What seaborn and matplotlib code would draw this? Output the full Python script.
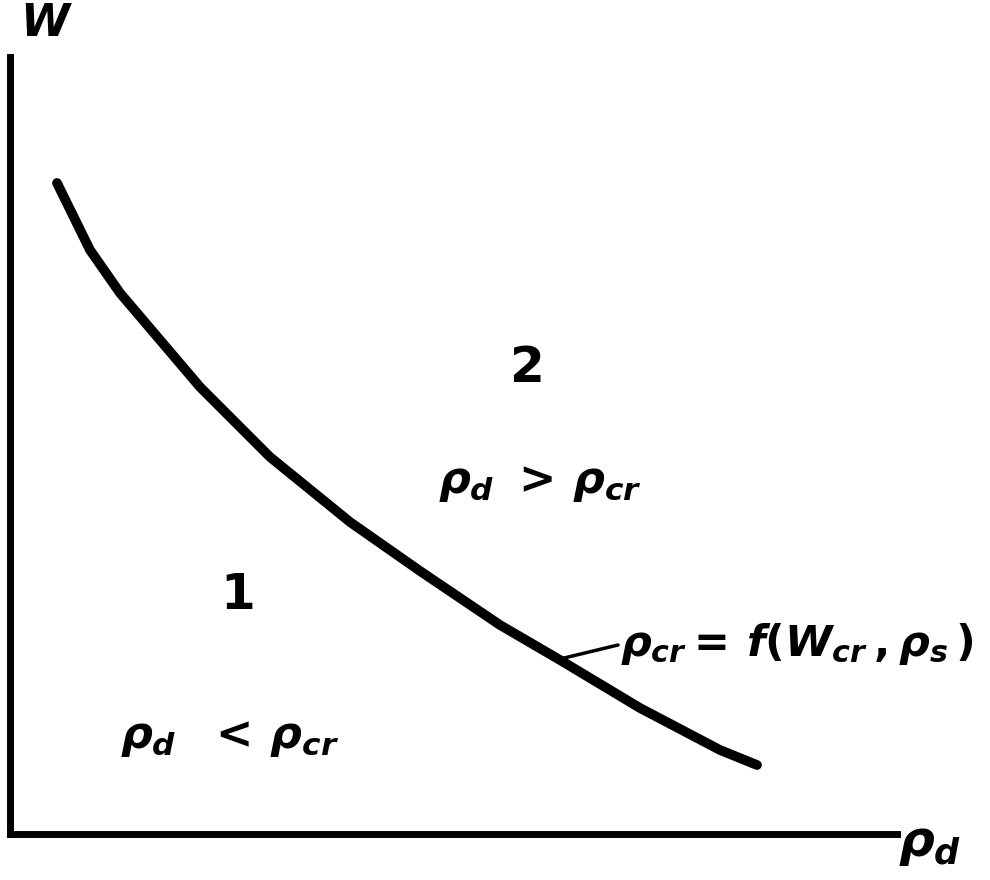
import numpy as np
import pandas as pd
import seaborn as sns
import matplotlib
matplotlib.use("Agg")
import matplotlib.pyplot as plt

# =========================
# DATA
# =========================
rho_d = [47, 80, 110, 190, 260, 340, 410, 490, 550, 630, 710, 747]
w_val = [651, 584, 541, 447, 377, 312, 263, 209, 174, 126, 84, 69]

region_labels = ["2", "1"]
region_pos = [(515, 466), (227, 239)]
cond_labels = [r"$\rho_d\ {>}\,\rho_{cr}$", r"$\rho_d\ \ {<}\,\rho_{cr}$"]
cond_pos = [(530, 352), (220, 97)]

curve_label = r"$\rho_{cr}{=}\,f(W_{cr}\,,\rho_s\,)$"
leader_x = [550, 608]
leader_y = [175, 189]

# =========================
# STYLE
# =========================
sns.set_style("white")
plt.rcParams["mathtext.fontset"] = "custom"
plt.rcParams["mathtext.it"] = "DejaVu Sans:italic:bold"
plt.rcParams["mathtext.rm"] = "DejaVu Sans:bold"
plt.rcParams["font.family"] = ["DejaVu Sans"]
plt.rcParams["text.color"] = "black"

fig = plt.figure(figsize=(9.9, 8.8), dpi=100)
ax = fig.add_axes([10 / 990, 46 / 880, 887 / 990, 777 / 880])

df = pd.DataFrame({"rho_d": rho_d, "W": w_val})
sns.lineplot(data=df, x="rho_d", y="W", sort=False, color="black",
             linewidth=7, solid_capstyle="round", solid_joinstyle="round", ax=ax)
ax.plot(leader_x, leader_y, color="black", linewidth=2.5)

ax.set_xlim(0, 887)
ax.set_ylim(0, 777)
ax.set_xticks([])
ax.set_yticks([])
ax.set_xlabel("")
ax.set_ylabel("")
for s in ["top", "right"]:
    ax.spines[s].set_visible(False)
for s in ["left", "bottom"]:
    ax.spines[s].set_linewidth(5)
    ax.spines[s].set_color("black")

# axis names
ax.text(10, 810, r"$W$", fontsize=32, ha="left", va="center", clip_on=False)
ax.text(888, -10, r"$\rho_d$", fontsize=36, ha="left", va="center", clip_on=False)

for lab, (x, y) in zip(region_labels, region_pos):
    ax.text(x, y, r"$%s$" % lab, fontsize=36, ha="center", va="center")
for lab, (x, y) in zip(cond_labels, cond_pos):
    ax.text(x, y, lab, fontsize=32, ha="center", va="center")

ax.text(610, 190, curve_label, fontsize=31, ha="left", va="center", clip_on=False)

fig.savefig("out.png", dpi=100)
